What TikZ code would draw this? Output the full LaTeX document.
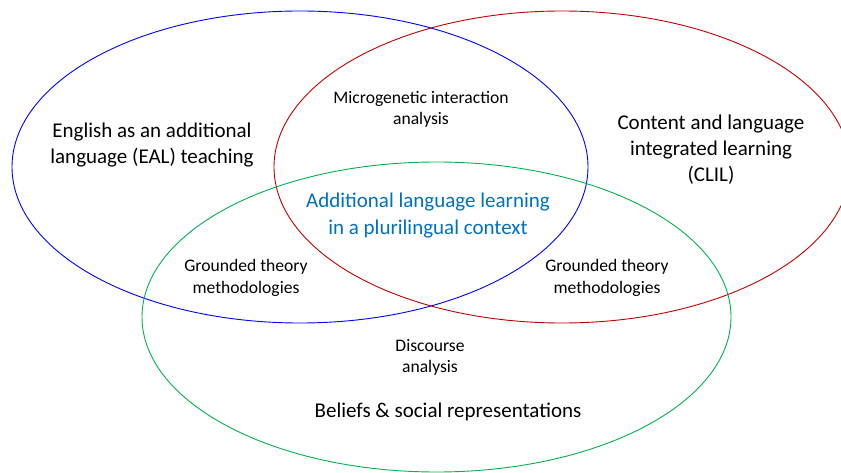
\documentclass[tikz,border=0pt]{standalone}
\usepackage{fontspec}
\setmainfont{Carlito}
\definecolor{eblue}{RGB}{0,0,255}
\definecolor{ered}{RGB}{192,0,0}
\definecolor{egreen}{RGB}{0,176,80}
\definecolor{tblue}{RGB}{0,112,192}
\tikzset{
  venn/.style={line width=0.9pt},
  bigtxt/.style={align=center, inner sep=0pt, font=\fontsize{21}{26}\selectfont},
  smalltxt/.style={align=center, inner sep=0pt, font=\fontsize{17.6}{21.5}\selectfont}
}
\begin{document}
\begin{tikzpicture}[x=1pt,y=-1pt]
\useasboundingbox (0,0) rectangle (841,473);
\begin{scope}
\clip (0,0) rectangle (841,473);
\draw[venn, eblue] (300,167) ellipse [x radius=288, y radius=156];
\draw[venn, ered] (562,167) ellipse [x radius=288, y radius=156];
\draw[venn, egreen] (436.5,317) ellipse [x radius=294.5, y radius=155];
\end{scope}
\node[bigtxt] (eal) at (152,145.5) {English as an additional\\language (EAL) teaching};
\node[bigtxt] (clil) at (711,149.5) {Content and language\\integrated learning\\(CLIL)};
\node[bigtxt, text=tblue, font=\fontsize{21}{27}\selectfont] (core) at (428,215.5) {Additional language learning\\in a plurilingual context};
\node[bigtxt] (beliefs) at (448,412) {Beliefs \& social representations};
\node[smalltxt] (micro) at (421,109.5) {Microgenetic interaction\\analysis};
\node[smalltxt] (gtl) at (246,278) {Grounded theory\\methodologies};
\node[smalltxt] (gtr) at (607,278) {Grounded theory\\methodologies};
\node[smalltxt] (disc) at (430,357.5) {Discourse\\analysis};
\end{tikzpicture}
\end{document}
